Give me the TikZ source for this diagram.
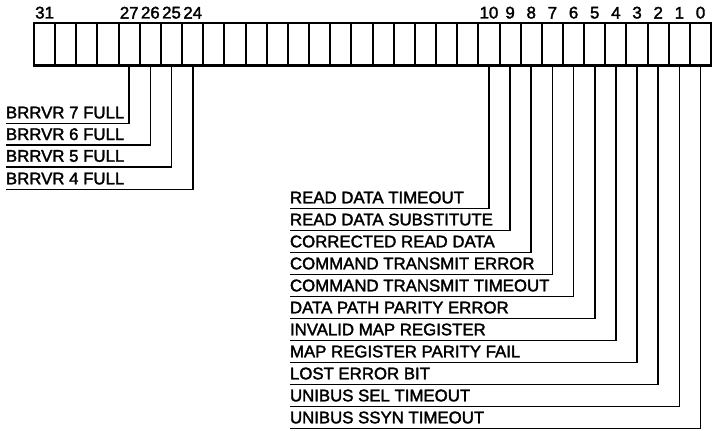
\documentclass[tikz,border=0pt]{standalone}
\usepackage{fontspec}
\setmainfont{Liberation Sans}[FakeBold=2]
\usepackage{tikz}
\usetikzlibrary{positioning}

\begin{document}
\begin{tikzpicture}[x=0.5pt, y=-0.5pt,
  every node/.style={font=\fontsize{8.4}{10}\selectfont},
  cell/.style={draw, line width=1pt, minimum width=10.58pt, minimum height=21.25pt, inner sep=0pt, outer sep=0pt},
  bitnum/.style={inner sep=0pt, outer sep=0pt},
  flag/.style={anchor=south west, inner xsep=0pt, inner ysep=2.5pt, outer sep=0pt, text depth=0pt},
  wire/.style={line width=0.8pt}]
  \useasboundingbox (0,0) rectangle (716,430);

  \node (c31) [cell] at (44.58,44.25) {};
  \foreach \i [evaluate=\i as \j using int(\i+1)] in {30,29,...,0}
    \node (c\i) [cell, right=0pt of c\j] {};
  \draw [line width=1.3pt] (c31.north west) rectangle (c0.south east);

  \foreach \b in {31,27,26,25,24,10,9,...,0}
    \node (n\b) [bitnum, above=2.2pt of c\b] {\b};

  \foreach \b/\y/\t in {27/123.3/BRRVR 7 FULL, 26/145/BRRVR 6 FULL,
                        25/166.7/BRRVR 5 FULL, 24/189.3/BRRVR 4 FULL}
    \node (f\b) [flag] at (6,\y) {\t};

  \foreach \b/\y/\t in {10/208.3/READ DATA TIMEOUT, 9/230.3/READ DATA SUBSTITUTE,
                        8/252.3/CORRECTED READ DATA, 7/274.3/COMMAND TRANSMIT ERROR,
                        6/296.3/COMMAND TRANSMIT TIMEOUT, 5/318.3/DATA PATH PARITY ERROR,
                        4/340.3/INVALID MAP REGISTER, 3/362.3/MAP REGISTER PARITY FAIL,
                        2/384.3/LOST ERROR BIT, 1/406.3/UNIBUS SEL TIMEOUT,
                        0/428.3/UNIBUS SSYN TIMEOUT}
    \node (f\b) [flag] at (290,\y) {\t};

  \foreach \b in {27,26,25,24,10,9,...,0}
    \draw [wire] (c\b.south) |- (f\b.south west);
\end{tikzpicture}
\end{document}
